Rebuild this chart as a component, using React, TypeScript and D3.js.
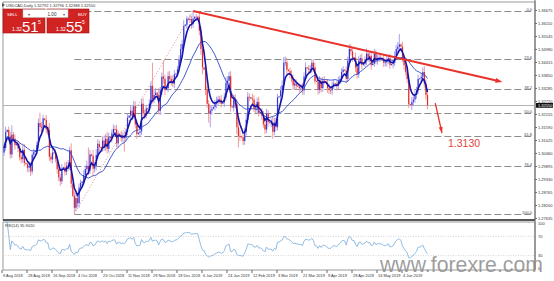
import React from "react";
import * as d3 from "d3";

// ---- data (USDCAD daily) ----
const firstOpen = 1.305;
const closes = [
  1.307, 1.314, 1.3148, 1.312, 1.3042, 1.3128,
  1.311, 1.3082, 1.3086, 1.3068, 1.303, 1.3021,
  1.3062, 1.3004, 1.3, 1.2984, 1.2992, 1.2968,
  1.304, 1.3052, 1.3058, 1.3082, 1.3178, 1.3162,
  1.3158, 1.3198, 1.3192, 1.315, 1.3148, 1.3032,
  1.302, 1.305, 1.3046, 1.3022, 1.2978, 1.2942,
  1.2925, 1.298, 1.2986, 1.2966, 1.2992, 1.2988,
  1.306, 1.2915, 1.2862, 1.281, 1.2852, 1.283,
  1.2898, 1.2918, 1.2924, 1.2952, 1.2978, 1.2992,
  1.2972, 1.3042, 1.3036, 1.298, 1.2992, 1.304,
  1.3088, 1.3074, 1.307, 1.3102, 1.3076, 1.311,
  1.3066, 1.3118, 1.3112, 1.3134, 1.3152, 1.315,
  1.309, 1.3132, 1.3126, 1.3112, 1.3122, 1.3114,
  1.314, 1.3202, 1.321, 1.3232, 1.3212, 1.3252,
  1.3172, 1.313, 1.3136, 1.3142, 1.3262, 1.322,
  1.3212, 1.3242, 1.3238, 1.3262, 1.334, 1.3282,
  1.33, 1.331, 1.33, 1.3232, 1.332, 1.338,
  1.337, 1.3322, 1.333, 1.3382, 1.337, 1.336,
  1.335, 1.339, 1.3394, 1.3412, 1.3452, 1.35,
  1.3522, 1.36, 1.3605, 1.3632, 1.3628, 1.363,
  1.361, 1.3632, 1.364, 1.3638, 1.364, 1.358,
  1.35, 1.342, 1.341, 1.3322, 1.3262, 1.322,
  1.3232, 1.324, 1.3248, 1.3262, 1.3272, 1.3282,
  1.328, 1.3262, 1.3268, 1.329, 1.3352, 1.3362,
  1.3382, 1.325, 1.3246, 1.328, 1.3262, 1.316,
  1.3122, 1.312, 1.3116, 1.31, 1.314, 1.3192,
  1.3292, 1.329, 1.3284, 1.328, 1.3242, 1.324,
  1.327, 1.3222, 1.3226, 1.321, 1.3172, 1.315,
  1.322, 1.3182, 1.3178, 1.318, 1.314, 1.318,
  1.316, 1.329, 1.3294, 1.332, 1.3342, 1.344,
  1.3442, 1.341, 1.3404, 1.339, 1.3372, 1.3342,
  1.335, 1.334, 1.3336, 1.333, 1.3332, 1.332,
  1.338, 1.342, 1.3416, 1.341, 1.3412, 1.344,
  1.342, 1.336, 1.3358, 1.3322, 1.336, 1.333,
  1.3362, 1.336, 1.3354, 1.333, 1.3322, 1.332,
  1.334, 1.335, 1.3348, 1.334, 1.3362, 1.337,
  1.34, 1.341, 1.3406, 1.337, 1.345, 1.35,
  1.349, 1.346, 1.3462, 1.342, 1.339, 1.345,
  1.346, 1.343, 1.3436, 1.345, 1.348, 1.346,
  1.347, 1.343, 1.3436, 1.348, 1.345, 1.346,
  1.3462, 1.346, 1.3458, 1.344, 1.3442, 1.345,
  1.346, 1.343, 1.3434, 1.344, 1.347, 1.35,
  1.351, 1.352, 1.351, 1.346, 1.343, 1.34,
  1.337, 1.326, 1.3256, 1.327, 1.328, 1.33,
  1.332, 1.337, 1.3372, 1.338, 1.34, 1.335,
  1.33, 1.3255,
];
// wick lengths in pips above / below the candle body
const wickUp = [
  18, 22, 3, 15, 20, 40, 12, 18, 2, 14, 25, 16, 20, 25, 3, 12, 18, 15,
  10, 14, 2, 16, 20, 45, 20, 16, 2, 22, 18, 30, 15, 22, 3, 18, 16, 20,
  14, 20, 2, 22, 18, 25, 15, 30, 2, 20, 22, 18, 18, 14, 3, 20, 16, 22,
  80, 20, 2, 25, 18, 24, 20, 15, 3, 18, 22, 20, 30, 18, 2, 16, 20, 15,
  20, 14, 2, 18, 15, 22, 15, 20, 3, 25, 18, 22, 20, 18, 2, 14, 22, 25,
  16, 15, 3, 20, 18, 100, 25, 20, 2, 30, 15, 18, 70, 18, 3, 20, 22, 15,
  25, 18, 2, 15, 20, 22, 18, 25, 3, 10, 5, 20, 15, 30, 2, 12, 4, 25,
  20, 22, 3, 25, 18, 15, 20, 16, 2, 18, 20, 15, 14, 20, 3, 18, 25, 20,
  18, 22, 2, 20, 24, 18, 30, 25, 3, 22, 18, 24, 20, 15, 2, 22, 18, 20,
  18, 22, 3, 16, 20, 18, 20, 15, 2, 18, 25, 22, 20, 15, 3, 18, 22, 25,
  25, 20, 2, 15, 18, 16, 20, 18, 2, 14, 16, 20, 18, 22, 2, 15, 18, 16,
  14, 20, 3, 18, 22, 15, 16, 20, 2, 15, 18, 14, 18, 16, 2, 15, 18, 14,
  16, 15, 2, 18, 16, 20, 20, 18, 3, 22, 15, 18, 15, 20, 2, 18, 22, 14,
  16, 18, 3, 20, 15, 14, 15, 16, 2, 18, 14, 20, 15, 18, 2, 16, 20, 18,
  20, 45, 3, 22, 18, 16, 20, 18, 2, 22, 15, 20, 16, 18, 2, 15, 20, 25,
  18, 22,
];
const wickDn = [
  15, 12, 3, 20, 18, 16, 14, 20, 2, 16, 15, 18, 15, 14, 3, 18, 20, 20,
  12, 16, 2, 18, 14, 22, 18, 20, 3, 16, 22, 18, 14, 18, 2, 15, 20, 16,
  20, 12, 3, 16, 14, 18, 14, 20, 5, 28, 15, 18, 20, 15, 2, 16, 18, 14,
  20, 15, 3, 30, 16, 20, 18, 20, 2, 16, 20, 18, 20, 16, 2, 18, 15, 20,
  18, 20, 3, 15, 18, 60, 16, 14, 2, 18, 20, 15, 18, 20, 2, 16, 15, 22,
  18, 14, 3, 16, 20, 18, 16, 20, 3, 15, 18, 20, 20, 22, 2, 18, 16, 20,
  15, 20, 2, 16, 14, 18, 16, 14, 3, 18, 5, 15, 22, 18, 2, 16, 4, 20,
  25, 30, 2, 22, 18, 40, 60, 18, 2, 16, 20, 18, 18, 16, 2, 20, 15, 18,
  16, 22, 3, 18, 20, 30, 50, 20, 2, 18, 16, 15, 14, 18, 2, 20, 16, 18,
  20, 16, 2, 18, 14, 20, 16, 20, 2, 18, 30, 15, 18, 14, 2, 20, 16, 18,
  14, 20, 2, 18, 16, 20, 18, 16, 2, 20, 14, 18, 20, 14, 2, 18, 16, 15,
  18, 14, 2, 20, 16, 18, 16, 14, 2, 20, 18, 16, 18, 14, 2, 20, 15, 16,
  14, 16, 2, 18, 14, 16, 18, 16, 2, 20, 18, 16, 16, 18, 2, 14, 20, 16,
  18, 20, 2, 14, 16, 18, 16, 14, 2, 18, 16, 18, 14, 16, 2, 18, 14, 16,
  14, 16, 2, 18, 20, 14, 18, 16, 2, 20, 18, 14, 16, 14, 2, 18, 16, 18,
  20, 18,
];

const priceTicks = [
  1.36675, 1.3611, 1.35545, 1.3498, 1.34415, 1.3385, 1.33285, 1.3272,
  1.32155, 1.3159, 1.31025, 1.3046, 1.29895, 1.2933, 1.28765, 1.282, 1.27635,
];
const dateLabels = [
  "9 Aug 2018", "28 Aug 2018", "16 Sep 2018", "4 Oct 2018", "23 Oct 2018",
  "11 Nov 2018", "29 Nov 2018", "18 Dec 2018", "6 Jan 2019", "24 Jan 2019",
  "12 Feb 2019", "3 Mar 2019", "21 Mar 2019", "9 Apr 2019", "28 Apr 2019",
  "16 May 2019", "4 Jun 2019",
];
const dateLabelIdx = [0, 16, 32, 48, 64, 80, 96, 112, 128, 144, 160, 176, 192, 208, 224, 240, 256];

const fibLevels = [0, 23.6, 38.2, 50, 61.8, 76.4, 100];
const fibLabels = ["0.0", "23.6", "38.2", "50.0", "61.8", "76.4", "100.0"];
const fibHigh = 1.3665;
const fibLow = 1.2783;
const fibHighIdx = 121;
const fibLowIdx = 45;

const trendStart = { i: 121, p: 1.3665 };
const trendEnd = { i: 319, p: 1.3357 };
const targetArrowStart = { i: 276, p: 1.3265 };
const targetArrowEnd = { i: 280.3, p: 1.3135 };
const targetText = "1.3130";

const rsiLevels = [70, 30];
const rsiAxisLabels = [100, 70, 30, 0];

// ---- helpers ----
function ema(vals: number[], n: number) {
  const k = 2 / (n + 1);
  let e = vals[0];
  return vals.map((v, i) => (i === 0 ? e : (e = v * k + e * (1 - k))));
}
function sma(vals: number[], n: number) {
  return vals.map((_, i) => {
    const s = Math.max(0, i - n + 1);
    return d3.mean(vals.slice(s, i + 1)) as number;
  });
}
function rsi(vals: number[], n: number) {
  let ag = 0, al = 0;
  const out: (number | null)[] = [null];
  for (let i = 1; i < vals.length; i++) {
    const ch = vals[i] - vals[i - 1];
    const g = Math.max(ch, 0), l = Math.max(-ch, 0);
    if (i <= n) { ag = (ag * (i - 1) + g) / i; al = (al * (i - 1) + l) / i; }
    else { ag = (ag * (n - 1) + g) / n; al = (al * (n - 1) + l) / n; }
    out.push(al === 0 ? 100 : 100 - 100 / (1 + ag / al));
  }
  return out;
}

const W = 554, H = 281;
const AXIS_X = 535;
const MAIN_TOP = 2, MAIN_BOT = 220;
const RSI_TOP = 222, RSI_BOT = 270;
const F = "'Liberation Sans', Arial, sans-serif";
const FS = 4;

export default function App() {
  const n = closes.length;
  const x = d3.scaleLinear().domain([0, n - 1]).range([4, 4 + (n - 1) * 1.5625]);
  const y = d3.scaleLinear().domain([1.27569, 1.36998]).range([MAIN_BOT, 3]);
  const yR = d3.scaleLinear().domain([0, 100]).range([RSI_BOT, RSI_TOP]);

  const opens = closes.map((c, i) => (i === 0 ? firstOpen : closes[i - 1]));
  const highs = closes.map((c, i) => Math.max(c, opens[i]) + wickUp[i] / 10000);
  const lows = closes.map((c, i) => Math.min(c, opens[i]) - wickDn[i] / 10000);

  const fast = ema(closes, 5);
  const slow = sma(closes, 21);
  const rsiV = rsi(closes, 14);

  const line = d3.line<number>().x((_, i) => x(i)).y((v) => y(v)).curve(d3.curveLinear);
  const rsiLine = d3
    .line<number | null>()
    .defined((v) => v !== null)
    .x((_, i) => x(i))
    .y((v) => yR(v as number));

  const last = closes[n - 1];

  const arrowHead = (x1: number, y1: number, x2: number, y2: number, len: number, wid: number) => {
    const a = Math.atan2(y2 - y1, x2 - x1);
    const bx = x2 - len * Math.cos(a), by = y2 - len * Math.sin(a);
    const px = -Math.sin(a) * wid / 2, py = Math.cos(a) * wid / 2;
    return `M${x2},${y2}L${bx + px},${by + py}L${bx - px},${by - py}Z`;
  };

  const tx1 = x(trendStart.i), ty1 = y(trendStart.p), tx2 = x(trendEnd.i), ty2 = y(trendEnd.p);
  const ax1 = x(targetArrowStart.i), ay1 = y(targetArrowStart.p), ax2 = x(targetArrowEnd.i), ay2 = y(targetArrowEnd.p);

  return (
    <svg width={W} height={H} style={{ position: "absolute", left: 0, top: 0, background: "#fff" }} fontFamily={F}>
      <rect x={0} y={0} width={W} height={H} fill="#fff" />
      {/* frames */}
      <rect x={3} y={MAIN_TOP} width={AXIS_X - 3} height={MAIN_BOT - MAIN_TOP} fill="none" stroke="#9a9a9a" strokeWidth={1} />
      <line x1={3} x2={AXIS_X} y1={MAIN_BOT} y2={MAIN_BOT} stroke="#555" strokeWidth={2} />
      <rect x={3} y={RSI_TOP} width={AXIS_X - 3} height={RSI_BOT - RSI_TOP} fill="none" stroke="#9a9a9a" strokeWidth={1} />
      <line x1={AXIS_X} x2={AXIS_X} y1={0} y2={RSI_BOT} stroke="#666" strokeWidth={1} />

      {/* fibonacci levels */}
      {fibLevels.map((lv, k) => {
        const p = fibHigh - (lv / 100) * (fibHigh - fibLow);
        const yy = Math.round(y(p)) + 0.5;
        return (
          <g key={"fib" + k}>
            <line x1={x(fibLowIdx)} x2={531} y1={yy} y2={yy} stroke="#8c8c8c" strokeWidth={1} strokeDasharray="7,3" />
            <text x={532} y={yy - 1} fontSize={FS} textAnchor="end" fill="#444">{fibLabels[k]}</text>
          </g>
        );
      })}
      <line x1={x(fibLowIdx)} y1={y(fibLow)} x2={x(fibHighIdx)} y2={y(fibHigh)} stroke="#e28a8a" strokeWidth={1} strokeDasharray="1,2" />

      {/* bid line */}
      <line x1={3} x2={AXIS_X} y1={Math.round(y(last)) + 0.5} y2={Math.round(y(last)) + 0.5} stroke="#b4b4b4" strokeWidth={1} />

      {/* candles */}
      {closes.map((c, i) => {
        const o = opens[i];
        const up = c >= o;
        const col = up ? "#3535d8" : "#e42a2a";
        const wcol = up ? "#a8a0ec" : "#f29a9a";
        const yt = y(Math.max(o, c)), yb = y(Math.min(o, c));
        return (
          <g key={"c" + i}>
            <line x1={x(i)} x2={x(i)} y1={y(highs[i])} y2={y(lows[i])} stroke={wcol} strokeWidth={1} />
            <rect x={x(i) - 0.5} y={yt} width={1.2} height={Math.max(0.8, yb - yt)} fill={col} />
          </g>
        );
      })}

      {/* moving averages */}
      <path d={line(slow) || ""} fill="none" stroke="#2b45c8" strokeWidth={0.9} />
      <path d={line(fast) || ""} fill="none" stroke="#1414a8" strokeWidth={1.6} />

      {/* trend line */}
      <line x1={tx1} y1={ty1} x2={tx2 - 4} y2={ty2 - 0.9} stroke="#e8322a" strokeWidth={2} />
      <path d={arrowHead(tx1, ty1, tx2, ty2, 7, 5)} fill="#e8322a" />
      {/* target arrow */}
      <line x1={ax1} y1={ay1} x2={ax2} y2={ay2} stroke="#e8322a" strokeWidth={1.3} />
      <path d={arrowHead(ax1, ay1, ax2, ay2, 6, 4)} fill="#e8322a" />
      <text x={448} y={147} fontSize={10.5} fill="#e0443c">{targetText}</text>

      {/* price axis */}
      {priceTicks.map((p, k) => (
        <g key={"pt" + k}>
          <line x1={AXIS_X} x2={AXIS_X + 2} y1={y(p)} y2={y(p)} stroke="#666" />
          <text x={538} y={y(p) + 1.4} fontSize={FS} fill="#333">{p.toFixed(5)}</text>
        </g>
      ))}
      <rect x={AXIS_X + 1} y={y(last) - 2.4} width={17} height={4.8} fill="#111" />
      <text x={538} y={y(last) + 1.4} fontSize={FS} fill="#fff">{last.toFixed(5)}</text>

      {/* RSI panel */}
      {rsiLevels.map((lv) => (
        <line key={"rl" + lv} x1={3} x2={AXIS_X} y1={yR(lv)} y2={yR(lv)} stroke="#c8c8c8" strokeWidth={0.8} strokeDasharray="1,1.5" />
      ))}
      <path d={rsiLine(rsiV) || ""} fill="none" stroke="#86b4df" strokeWidth={0.9} />
      <text x={5} y={226.5} fontSize={FS} fill="#333">RSI(14) 35.9020</text>
      {rsiAxisLabels.map((lv) => (
        <text key={"ra" + lv} x={538} y={Math.min(Math.max(yR(lv) + 1.4, RSI_TOP + 3), RSI_BOT - 0.5)} fontSize={FS} fill="#333">{lv}</text>
      ))}

      {/* date axis */}
      {dateLabelIdx.map((idx, k) => (
        <g key={"dl" + k}>
          <line x1={x(idx) - 2} x2={x(idx) - 2} y1={RSI_BOT} y2={RSI_BOT + 3} stroke="#666" />
          <text x={x(idx) - 1} y={277} fontSize={3.9} fill="#333">{dateLabels[k]}</text>
        </g>
      ))}

      {/* header */}
      <path d="M2,3 L5,5 L2,7 Z" fill="#555" />
      <text x={6} y={6.5} fontSize={FS} fill="#333">USDCAD,Daily  1.32792 1.32796 1.32388 1.32550</text>

      {/* trade panel */}
      <rect x={3} y={9} width={42} height={24} fill="#d22323" stroke="#a01010" strokeWidth={0.6} />
      <rect x={47} y={9} width={42} height={24} fill="#d22323" stroke="#a01010" strokeWidth={0.6} />
      <rect x={23} y={9.5} width={45} height={8} fill="#fff" stroke="#bbb" strokeWidth={0.5} />
      <text x={7} y={15.5} fontSize={4.4} fill="#fff">SELL</text>
      <text x={78} y={15.5} fontSize={4.4} fill="#fff">BUY</text>
      <text x={28} y={15.5} fontSize={4.4} fill="#555">▾</text>
      <text x={52} y={15.5} fontSize={4.6} fill="#333" textAnchor="middle">1.00</text>
      <text x={63} y={15.5} fontSize={4.4} fill="#555">▾</text>
      <text x={12} y={30.5} fontSize={5} fill="#fff">1.32</text>
      <text x={22} y={32} fontSize={15} fill="#fff">51</text>
      <text x={38} y={23.5} fontSize={5} fill="#fff">5</text>
      <text x={56} y={30.5} fontSize={5} fill="#fff">1.32</text>
      <text x={66} y={32} fontSize={15} fill="#fff">55</text>
      <text x={82} y={23.5} fontSize={5} fill="#fff">5</text>

      {/* watermark */}
      <text x={380} y={272} fontSize={22} fill="#8c8c8c" fillOpacity={0.85} textLength={163} lengthAdjust="spacingAndGlyphs">www.forexre.com</text>
    </svg>
  );
}
